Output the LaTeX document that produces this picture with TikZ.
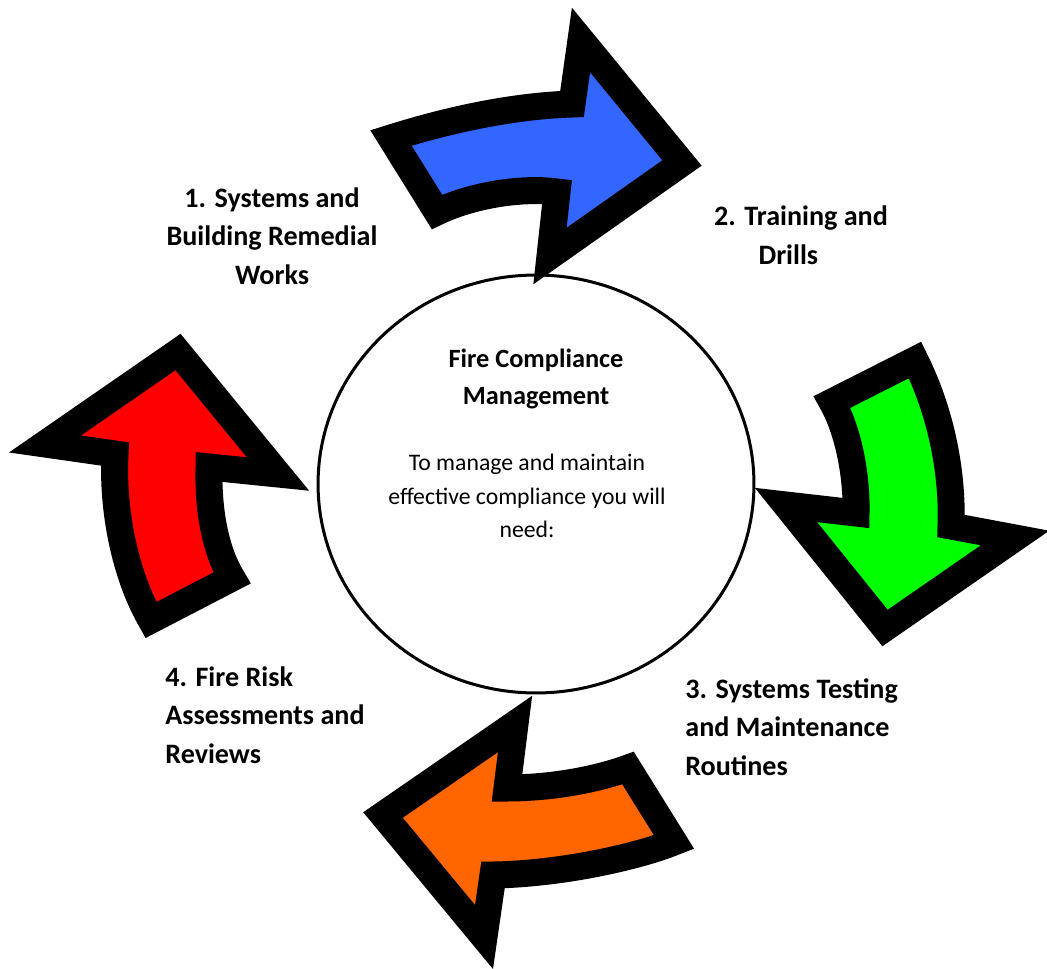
\documentclass[tikz,border=0pt]{standalone}
\usepackage{fontspec}
\setmainfont{Carlito}
\usetikzlibrary{positioning}
\usetikzlibrary{shapes.geometric}
\definecolor{cycleblue}{RGB}{51,102,255}
\definecolor{cyclegreen}{RGB}{0,255,0}
\definecolor{cycleorange}{RGB}{255,102,0}
\definecolor{cyclered}{RGB}{255,0,0}
\tikzstyle{bigarrow}=[draw=black,line width=0.54cm,line join=miter,miter limit=20]
\tikzstyle{steplabel}=[font=\fontsize{16}{22}\selectfont\bfseries,inner sep=0pt]
\tikzstyle{hubtitle}=[font=\fontsize{15}{21}\selectfont\bfseries,align=center,inner sep=0pt]
\tikzstyle{hubtext}=[font=\fontsize{13.5}{19.3}\selectfont,align=center,inner sep=0pt]

\begin{document}
\begin{tikzpicture}[x=0.02cm,y=-0.02cm]
    \useasboundingbox (0,0) rectangle (1047,969);

    % the four curved arrows, clockwise from the top
    \filldraw[bigarrow,fill=cycleblue] (391,138) .. controls (448,120) and (512,106) .. (572,104)
        -- (581,40) -- (682,163) -- (550,256) -- (557,192)
        .. controls (520,187) and (470,196) .. (437,212) -- cycle;
    \filldraw[bigarrow,fill=cyclegreen] (915,360) -- (832,402)
        .. controls (848,430) and (857,475) .. (856,513)
        -- (786,505) -- (885,628) -- (1015,538) -- (951,526)
        .. controls (953,470) and (940,410) .. (915,360) -- cycle;
    \filldraw[bigarrow,fill=cycleorange] (628,768) -- (674,842)
        .. controls (637,857) and (560,874) .. (493,875)
        -- (484,937) -- (383,815) -- (515,724) -- (507,788)
        .. controls (550,788) and (595,780) .. (628,768) -- cycle;
    \filldraw[bigarrow,fill=cyclered] (178,352) -- (45,444) -- (115,454)
        .. controls (112,510) and (125,575) .. (151,620)
        -- (232,578) .. controls (215,550) and (208,510) .. (209,467)
        -- (278,474) -- cycle;

    \node[ellipse,draw,line width=0.06cm,minimum width=8.72cm,minimum height=8.36cm] (hub) at (536,484) {};
    \node[hubtitle] (title) at (536,379) {Fire Compliance\\Management};
    \node[hubtext,below=0.88cm of title,xshift=-0.18cm] (intro) {To manage and maintain\\effective compliance you will\\need:};

    \node[steplabel,align=center] (step1) at (272,236) {1. Systems and\\Building Remedial\\Works};
    \node[steplabel,align=center] (step2) at (801,235) {2. Training and\\Drills\hspace*{0.9em}};
    \node[steplabel,align=left,anchor=west] (step3) at (685,727) {3. Systems Testing\\and Maintenance\\Routines};
    \node[steplabel,align=left,anchor=west] (step4) at (165,715) {4. Fire Risk\\Assessments and\\Reviews};
\end{tikzpicture}
\end{document}
